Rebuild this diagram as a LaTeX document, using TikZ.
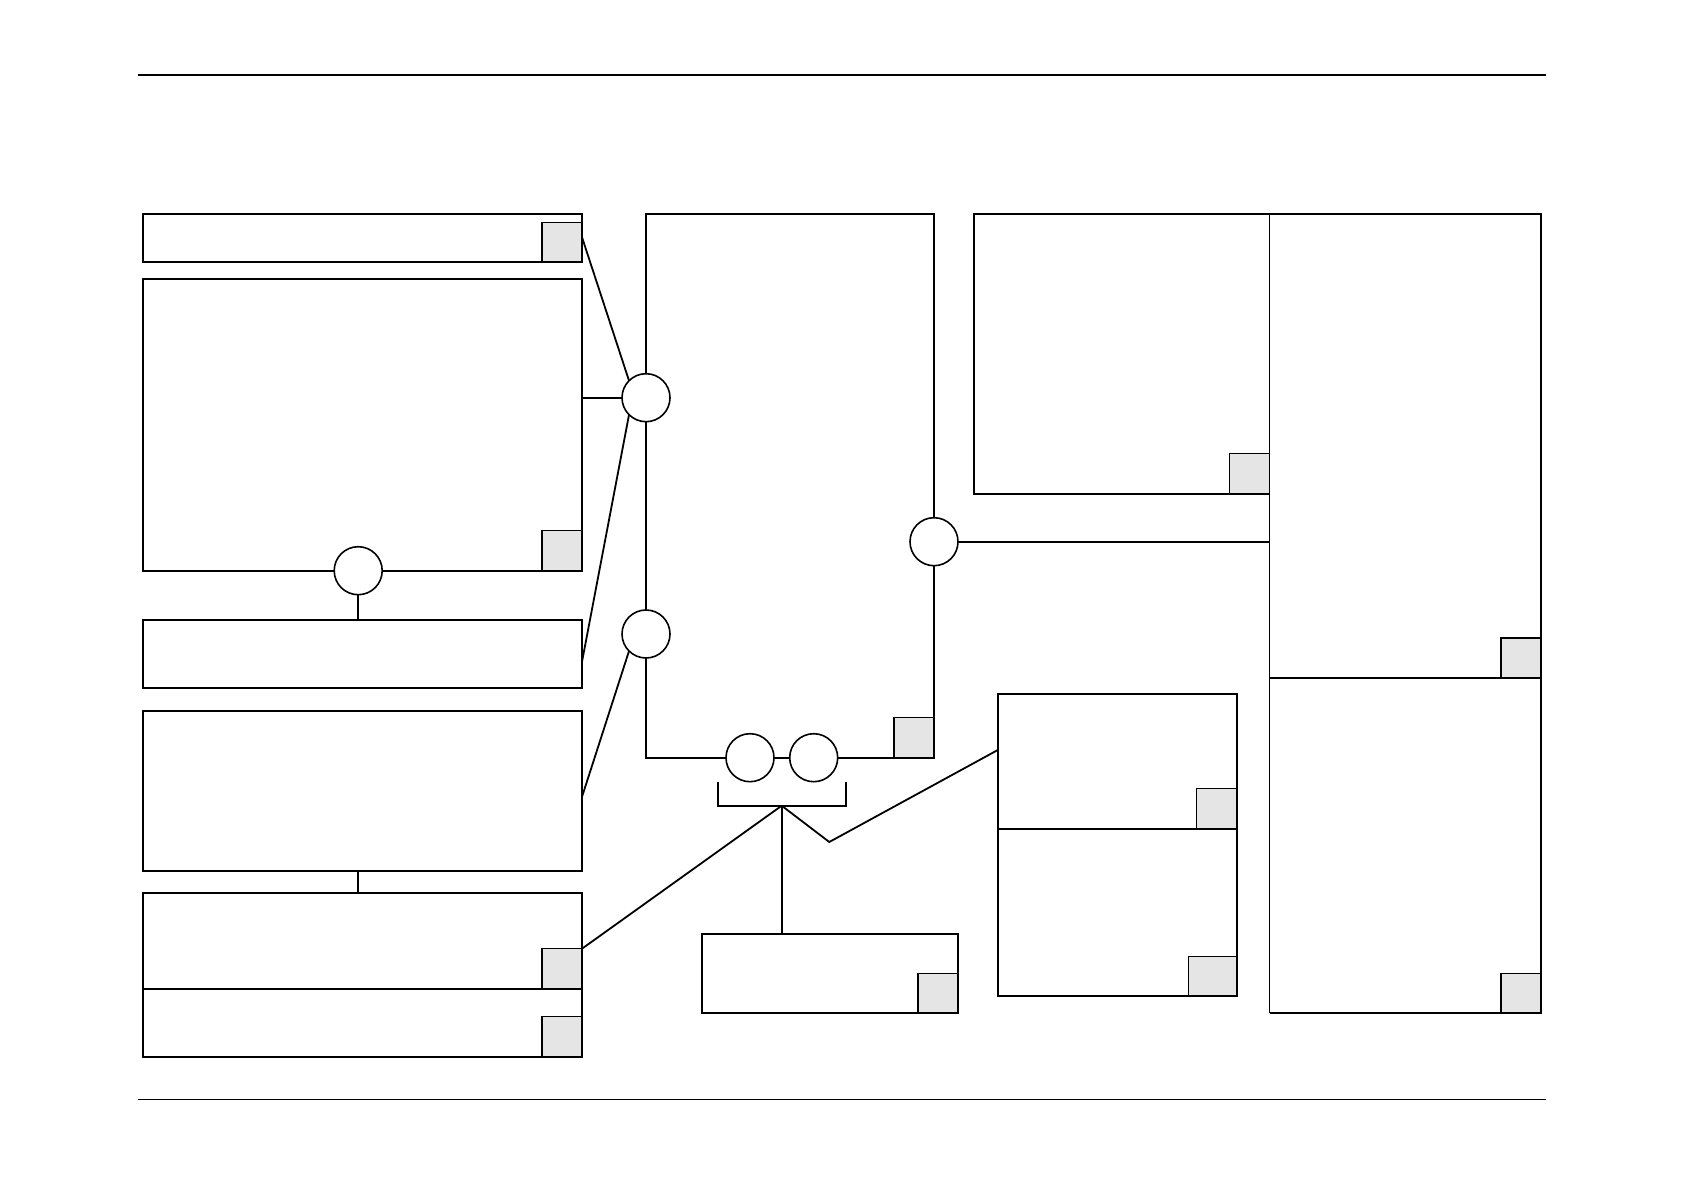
\documentclass[tikz,border=0pt]{standalone}
\usetikzlibrary{calc}
\begin{document}
\begin{tikzpicture}[x=1pt,y=-1pt,
  box/.style={draw=black,line width=2pt,rectangle,inner sep=0pt,outer sep=0pt,anchor=north west},
  nobox/.style={draw=none,rectangle,inner sep=0pt,outer sep=0pt,anchor=north west},
  tag/.style={draw=black,fill=gray!20,line width=1.5pt,rectangle,inner sep=0pt,outer sep=0pt,anchor=south east,minimum width=40pt,minimum height=40pt},
  port/.style={draw=black,fill=white,line width=1.6pt,circle,inner sep=0pt,outer sep=0pt,minimum size=48pt},
  link/.style={draw=black,line width=1.8pt},
  edge/.style={draw=black,line width=2pt},
  thinedge/.style={draw=black,line width=1.2pt},
  rule/.style={draw=black,line width=1.2pt}]
\useasboundingbox (0,0) rectangle (1684,1191);

% header / footer rules
\draw[rule] (138.3,75) -- (1546,75);
\draw[rule] (138.3,1099.3) -- (1546,1099.3);

% left column
\node[box,minimum width=439.5pt,minimum height=47.5pt] (b1) at (142.5,214) {};
\node[tag,minimum height=39pt] (b1g) at (b1.south east) {};
\node[box,minimum width=439.5pt,minimum height=291.7pt] (b2) at (142.5,279) {};
\node[tag] (b2g) at (b2.south east) {};
\node[box,minimum width=439.5pt,minimum height=67.5pt] (b3) at (142.5,620) {};
\node[box,minimum width=439.5pt,minimum height=159.7pt] (b4) at (142.5,711) {};
\node[box,minimum width=439.5pt,minimum height=96pt] (b5) at (142.5,892.7) {};
\node[tag] (b5g) at (b5.south east) {};
\node[box,minimum width=439.5pt,minimum height=68pt] (b6) at (142.5,988.7) {};
\node[tag] (b6g) at (b6.south east) {};

% main box
\node[box,minimum width=288pt,minimum height=543.7pt] (main) at (646,214) {};
\node[tag] (maing) at (main.south east) {};

% bottom middle box
\node[box,minimum width=256pt,minimum height=78.7pt] (bot) at (702,934) {};
\node[tag,minimum height=39.4pt] (botg) at (bot.south east) {};

% middle right boxes
\node[box,minimum width=239pt,minimum height=134.7pt] (mrU) at (997.7,694) {};
\node[tag] (mrUg) at (mrU.south east) {};
\node[box,minimum width=239pt,minimum height=167.3pt] (mrL) at (997.7,828.7) {};
\node[tag,minimum width=48pt,minimum height=39.3pt] (mrLg) at (mrL.south east) {};

% top middle box and right tall boxes
\node[nobox,minimum width=295.8pt,minimum height=279.7pt] (tm) at (973.7,214) {};
\node[nobox,minimum width=271.5pt,minimum height=464pt] (rtU) at (1269.5,214) {};
\node[nobox,minimum width=271.5pt,minimum height=335pt] (rtL) at (1269.5,678) {};
\draw[edge] (tm.north east) -- (tm.north west) -- (tm.south west) -- (tm.south east);
\draw[thinedge] (rtU.north west) -- (rtL.south west);
\draw[edge] (rtU.north west) -- (rtU.north east) -- (rtL.south east) -- (rtL.south west);
\draw[edge] (rtL.north west) -- (rtL.north east);
\node[tag] (tmg) at (tm.south east) {};
\node[tag] (rtUg) at (rtU.south east) {};
\node[tag,minimum height=39.7pt] (rtLg) at (rtL.south east) {};

% ports
\node[port] (cA) at (646,397.7) {};
\node[port] (cB) at (646,634) {};
\node[port] (cE) at (934,541.7) {};
\node[port] (cC) at (750,757.7) {};
\node[port] (cD) at (813.7,757.7) {};
\node[port] (cF) at (358.2,570.7) {};

% connectors
\draw[link] ([yshift=0.5pt]b1.east) -- (cA.north west);
\draw[link] (cA.west) -- (cA.west -| b2.east);
\draw[link] (cA.south west) -- ([yshift=-8pt]b3.east);
\draw[link] (cB.south west) -- ([yshift=-6pt]b4.east);
\draw[link] (cF.south) -- (cF.south |- b3.north);
\draw[link] (cF |- b4.south) -- (cF |- b5.north);
\draw[link] (cE.east) -- (cE.east -| rtU.west);

% bracket and its links
\coordinate (apex) at (781.7,805.7);
\coordinate (brl) at (717.7,782.3);
\coordinate (brr) at (846,782.3);
\coordinate (zig) at (829.3,842);
\draw[link] (brl) |- (apex) -| (brr);
\draw[link] (apex) -- (apex |- bot.north);
\draw[link] (apex) -- (b5g.north east);
\draw[link] (apex) -- (zig) -- ([yshift=11.3pt]mrU.west);
\end{tikzpicture}
\end{document}
